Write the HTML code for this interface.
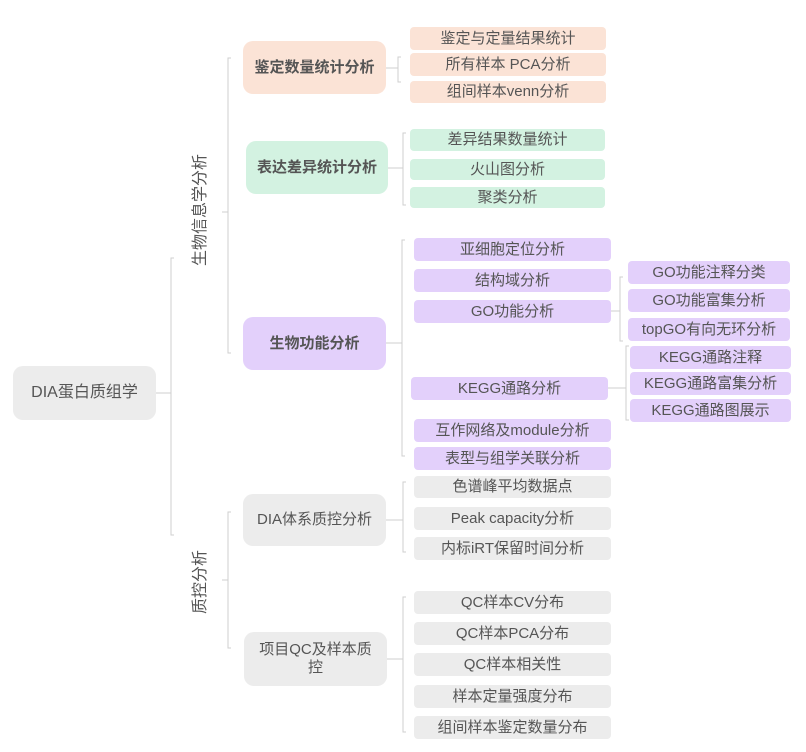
<!DOCTYPE html>
<html><head><meta charset="utf-8"><style>
body{margin:0;width:806px;height:752px;background:#fff;position:relative;overflow:hidden;font-family:"Liberation Sans","Noto Sans CJK SC",sans-serif;color:#555}
.b{position:absolute;display:flex;align-items:center;justify-content:center;text-align:center;border-radius:4px;font-size:15px;line-height:18px}
.m{border-radius:10px;font-size:15px}
.o{background:#fbe3d6}.g{background:#d3f2e1}.p{background:#e3d0fb}.y{background:#ececec}
.bold{font-weight:bold}
.v{position:absolute;font-size:15px;transform:rotate(-90deg);white-space:nowrap;transform-origin:center}
</style></head><body>
<svg width="806" height="752" style="position:absolute;left:0;top:0" fill="none" stroke="#cfcfcf" stroke-width="1">
<path d="M156 393H171M174 258H171V535H174"/>
<path d="M222 212H228M231 58H228V353H231"/>
<path d="M222 580H228M231 512H228V648H231"/>
<path d="M386 68H398M401 57H398V82H401"/>
<path d="M388 168H403M406 133H403V205H406"/>
<path d="M386 343H402M405 240H402V456H405"/>
<path d="M611 311H620M623 277H620V341H623"/>
<path d="M608 388H626M629 346H626V420H629"/>
<path d="M386 520H403M406 482H403V552H406"/>
<path d="M386 659H403M406 597H403V732H406"/>
</svg>
<div class="b m y" style="left:13px;top:366px;width:143px;height:54px;font-size:16px">DIA蛋白质组学</div>
<div class="v" style="left:146px;top:202px;width:104px;text-align:center;font-size:16px">生物信息学分析</div>
<div class="v" style="left:160px;top:570px;width:76px;text-align:center;font-size:16px">质控分析</div>
<div class="b m o bold" style="left:243px;top:41px;width:143px;height:53px">鉴定数量统计分析</div>
<div class="b m g bold" style="left:246px;top:141px;width:142px;height:53px">表达差异统计分析</div>
<div class="b m p bold" style="left:243px;top:317px;width:143px;height:53px">生物功能分析</div>
<div class="b m y" style="left:243px;top:494px;width:143px;height:52px">DIA体系质控分析</div>
<div class="b m y" style="left:244px;top:632px;width:143px;height:54px;padding:0 14px;box-sizing:border-box">项目QC及样本质控</div>
<div class="b o" style="left:410px;top:27px;width:196px;height:23px">鉴定与定量结果统计</div>
<div class="b o" style="left:410px;top:53px;width:196px;height:23px">所有样本 PCA分析</div>
<div class="b o" style="left:410px;top:81px;width:196px;height:22px">组间样本venn分析</div>
<div class="b g" style="left:410px;top:129px;width:195px;height:22px">差异结果数量统计</div>
<div class="b g" style="left:410px;top:159px;width:195px;height:21px">火山图分析</div>
<div class="b g" style="left:410px;top:187px;width:195px;height:21px">聚类分析</div>
<div class="b p" style="left:414px;top:238px;width:197px;height:23px">亚细胞定位分析</div>
<div class="b p" style="left:414px;top:269px;width:197px;height:23px">结构域分析</div>
<div class="b p" style="left:414px;top:300px;width:197px;height:23px">GO功能分析</div>
<div class="b p" style="left:411px;top:377px;width:197px;height:23px">KEGG通路分析</div>
<div class="b p" style="left:414px;top:419px;width:197px;height:23px">互作网络及module分析</div>
<div class="b p" style="left:414px;top:447px;width:197px;height:23px">表型与组学关联分析</div>
<div class="b p" style="left:628px;top:261px;width:162px;height:23px">GO功能注释分类</div>
<div class="b p" style="left:628px;top:289px;width:162px;height:23px">GO功能富集分析</div>
<div class="b p" style="left:628px;top:318px;width:162px;height:23px">topGO有向无环分析</div>
<div class="b p" style="left:630px;top:346px;width:161px;height:23px">KEGG通路注释</div>
<div class="b p" style="left:630px;top:372px;width:161px;height:23px">KEGG通路富集分析</div>
<div class="b p" style="left:630px;top:399px;width:161px;height:23px">KEGG通路图展示</div>
<div class="b y" style="left:414px;top:476px;width:197px;height:22px">色谱峰平均数据点</div>
<div class="b y" style="left:414px;top:507px;width:197px;height:23px">Peak capacity分析</div>
<div class="b y" style="left:414px;top:537px;width:197px;height:23px">内标iRT保留时间分析</div>
<div class="b y" style="left:414px;top:591px;width:197px;height:23px">QC样本CV分布</div>
<div class="b y" style="left:414px;top:622px;width:197px;height:23px">QC样本PCA分布</div>
<div class="b y" style="left:414px;top:653px;width:197px;height:23px">QC样本相关性</div>
<div class="b y" style="left:414px;top:685px;width:197px;height:23px">样本定量强度分布</div>
<div class="b y" style="left:414px;top:716px;width:197px;height:23px">组间样本鉴定数量分布</div>
</body></html>
